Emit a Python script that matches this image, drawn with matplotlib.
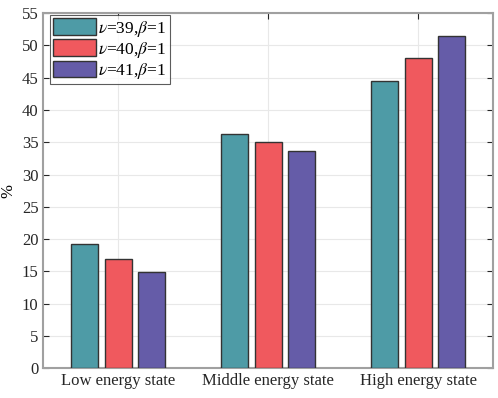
import matplotlib
matplotlib.use('Agg')
import matplotlib.pyplot as plt
import numpy as np

categories = ['Low energy state', 'Middle energy state', 'High energy state']
series_labels = [r'$\nu$=39,$\beta$=1', r'$\nu$=40,$\beta$=1', r'$\nu$=41,$\beta$=1']
v39 = [19.2, 36.2, 44.5]
v40 = [16.9, 35.0, 48.1]
v41 = [14.9, 33.6, 51.5]
colors = ['#4E9BA6', '#F0595E', '#655CA8']

plt.rcParams['font.family'] = ['Liberation Serif']
plt.rcParams['mathtext.fontset'] = 'stix'

fig = plt.figure(figsize=(4.98, 3.98), dpi=100)
ax = fig.add_axes([0.087, 0.075, 0.903, 0.892])

x = np.arange(1, len(categories) + 1)
w = 0.18
step = 0.223
for i, (vals, lab, c) in enumerate(zip([v39, v40, v41], series_labels, colors)):
    ax.bar(x + (i - 1) * step, vals, width=w, color=c, edgecolor='#333333',
           linewidth=1.0, label=lab, zorder=3)

ax.set_xlim(0.5, 3.5)
ax.set_ylim(0, 55)
ax.set_yticks(np.arange(0, 56, 5))
ax.set_xticks(x)
ax.set_xticklabels(categories)
ax.set_ylabel('%', fontsize=12)
ax.grid(True, color='#E8E8E8', linewidth=0.8, zorder=0)
ax.tick_params(direction='in', top=True, right=True, labelsize=12,
               colors='#262626', length=4)
for s in ax.spines.values():
    s.set_color('#A0A0A0')
    s.set_linewidth(1.5)

leg = ax.legend(loc='upper left', bbox_to_anchor=(0.014, 0.995), fontsize=12.5,
                frameon=True, fancybox=False, borderpad=0.2, labelspacing=0.05,
                handlelength=2.5, handleheight=1.1, handletextpad=0.1,
                borderaxespad=0)
leg.get_frame().set_edgecolor('#333333')
leg.get_frame().set_linewidth(0.8)

fig.savefig('out.png', dpi=100)
